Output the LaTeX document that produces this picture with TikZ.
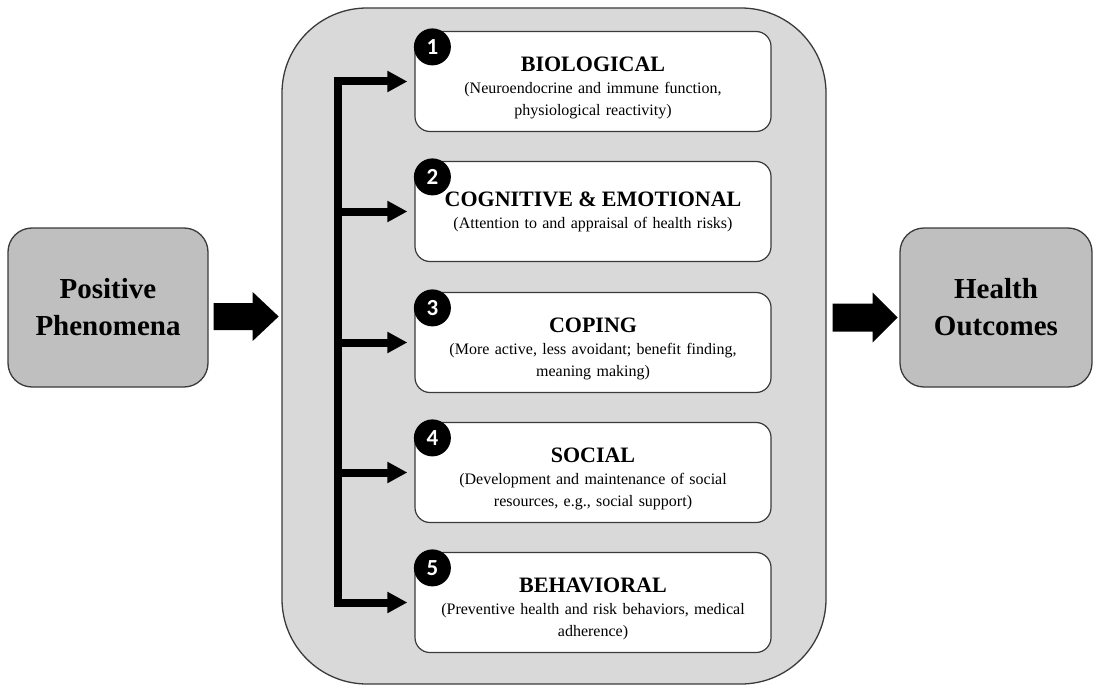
\documentclass[tikz,border=0pt]{standalone}
\usepackage{fontspec}
\setmainfont{Liberation Serif}
\newfontfamily\numfont{Carlito}
\usetikzlibrary{arrows.meta,calc}
\definecolor{panelgray}{HTML}{D9D9D9}
\definecolor{boxgray}{HTML}{BFBFBF}
\definecolor{edgegray}{HTML}{3A3A3A}
\newcommand\ttlfont{\fontsize{22}{24}\selectfont\bfseries}
\newcommand\subfont{\fontsize{16}{22}\selectfont\mdseries}
% taller first line, so that two-line descriptions sit a little lower
\newcommand\toppad{\rule{0pt}{27pt}}
\begin{document}
\begin{tikzpicture}[x=1pt,y=-1pt,
  panel/.style={draw=edgegray, line width=1.3pt, fill=panelgray, rounded corners=85pt,
    minimum width=544pt, minimum height=676pt, inner sep=0pt},
  endbox/.style={draw=edgegray, line width=1.3pt, fill=boxgray, rounded corners=24pt,
    minimum height=159pt, align=center, inner sep=0pt,
    font=\fontsize{29}{37}\selectfont\bfseries},
  pathbox/.style={draw=edgegray, line width=1.2pt, fill=white, rounded corners=15pt,
    minimum width=356pt, minimum height=100pt, align=center, inner sep=0pt, text width=350pt,
    font=\subfont},
  badge/.style={circle, fill=black, minimum size=37pt, inner sep=0pt, text=white,
    font=\numfont\fontsize{23}{23}\selectfont\bfseries},
  branch/.style={line width=8pt, -{Triangle[length=20pt,width=20pt]}, shorten >=7pt},
  trunk/.style={line width=8pt, line cap=rect},
  fatarrow/.style={fill=black}
]
\useasboundingbox (0,0) rectangle (1093,685);

% central panel holding the five pathways
\node[panel] (panel) at (554,346) {};

% input and output boxes
\node[endbox, minimum width=200pt] (pp) at (108,307.5) {Positive\\Phenomena};
\node[endbox, minimum width=192pt] (ho) at (996,307.5) {Health\\Outcomes};

% pathway boxes: title paragraph, then the description paragraph
\node[pathbox] (b1) at (593,81.5)
  {{\ttlfont\toppad BIOLOGICAL\par}(Neuroendocrine and immune function,\\ physiological reactivity)};
\node[pathbox] (b2) at (593,211.5)
  {{\ttlfont COGNITIVE \& EMOTIONAL\par}(Attention to and appraisal of health risks)};
\node[pathbox] (b3) at (593,342.5)
  {{\ttlfont\toppad COPING\par}(More active, less avoidant; benefit finding,\\ meaning making)};
\node[pathbox] (b4) at (593,472.5)
  {{\ttlfont\toppad SOCIAL\par}(Development and maintenance of social\\ resources, e.g., social support)};
\node[pathbox] (b5) at (593,602.5)
  {{\ttlfont\toppad BEHAVIORAL\par}(Preventive health and risk behaviors, medical\\ adherence)};

% numbered badges
\foreach \i in {1,...,5}{
  \node[badge] (n\i) at ($(b\i.north west)+(18,16)$) {\i};
}

% branching connector
\foreach \i in {1,...,5}{
  \coordinate (j\i) at (338,0 |- b\i.west);
}
\draw[trunk] (j1) -- (j5);
\foreach \i in {1,...,5}{
  \draw[branch] (j\i) -- (b\i.west);
}

% block arrows between the stages
\fill[fatarrow] ($(pp.east)+(5,-4.5)$) -- ++(39,0) -- ++(0,-11) -- ++(26,24.5)
  -- ++(-26,24.5) -- ++(0,-11) -- ++(-39,0) -- cycle;
\fill[fatarrow] ($(panel.east)+(6,-42.5)$) -- ++(40,0) -- ++(0,-11) -- ++(25,25)
  -- ++(-25,25) -- ++(0,-11) -- ++(-40,0) -- cycle;
\end{tikzpicture}
\end{document}
